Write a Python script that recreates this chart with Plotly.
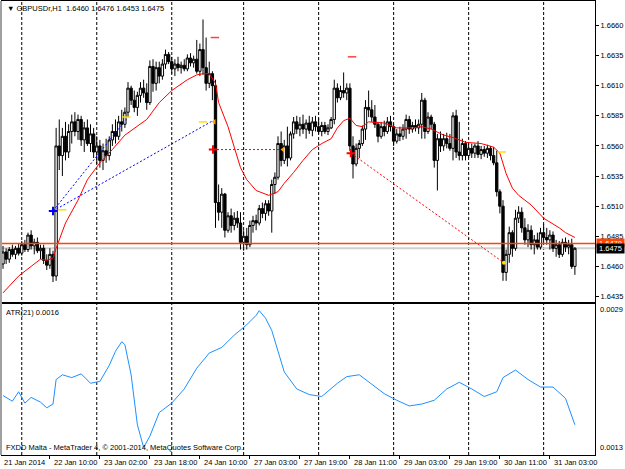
import plotly.graph_objects as go

# ---------------- data ----------------
symbol = "GBPUSDr,H1"

opens = [
    1.6462,1.6472,1.6466,1.6474,1.6470,1.6475,1.6471,1.6478,1.6474,1.6486,
    1.6477,1.6480,1.6473,1.6475,1.6465,1.6461,1.6470,1.6452,1.6560,1.6552,
    1.6568,1.6555,1.6572,1.6580,1.6572,1.6582,1.6565,1.6575,1.6562,1.6570,
    1.6555,1.6560,1.6548,1.6556,1.6552,1.6565,1.6572,1.6568,1.6580,1.6578,
    1.6588,1.6608,1.6598,1.6592,1.6602,1.6608,1.6604,1.6596,1.6626,1.6612,
    1.6625,1.6618,1.6628,1.6636,1.6630,1.6624,1.6628,1.6625,1.6627,1.6624,
    1.6633,1.6629,1.6632,1.6622,1.6640,1.6625,1.6612,1.6620,1.6610,1.6513,
    1.6505,1.6520,1.6490,1.6502,1.6494,1.6500,1.6496,1.6480,1.6485,1.6478,
    1.6494,1.6498,1.6496,1.6508,1.6504,1.6512,1.6506,1.6528,1.6534,1.6562,
    1.6548,1.6560,1.6550,1.6570,1.6580,1.6574,1.6578,1.6574,1.6579,1.6573,
    1.6580,1.6576,1.6572,1.6577,1.6572,1.6575,1.6582,1.6608,1.6600,1.6606,
    1.6604,1.6608,1.6560,1.6545,1.6558,1.6562,1.6574,1.6592,1.6590,1.6584,
    1.6578,1.6568,1.6576,1.6572,1.6580,1.6576,1.6564,1.6570,1.6568,1.6574,
    1.6582,1.6574,1.6577,1.6575,1.6578,1.6598,1.6572,1.6584,1.6578,1.6548,
    1.6566,1.6560,1.6566,1.6562,1.6558,1.6585,1.6555,1.6552,1.6562,1.6552,
    1.6558,1.6554,1.6560,1.6553,1.6557,1.6554,1.6558,1.6552,1.6546,1.6522,
    1.6510,1.6455,1.6470,1.6488,1.6475,1.6500,1.6505,1.6492,1.6482,1.6490,
    1.6478,1.6482,1.6476,1.6488,1.6484,1.6482,1.6486,1.6475,1.6478,1.6470,
    1.6480,1.6476,1.6478,1.6460]
highs = [
    1.6477,1.6475,1.6476,1.6478,1.6477,1.6479,1.6481,1.6482,1.6488,1.6490,
    1.6483,1.6484,1.6478,1.6478,1.6470,1.6475,1.6473,1.6575,1.6582,1.6575,
    1.6580,1.6578,1.6586,1.6588,1.6586,1.6585,1.6580,1.6582,1.6578,1.6575,
    1.6568,1.6565,1.6562,1.6566,1.6568,1.6578,1.6582,1.6585,1.6590,1.6592,
    1.6613,1.6610,1.6606,1.6605,1.6613,1.6615,1.6612,1.6631,1.6632,1.6630,
    1.6630,1.6632,1.6640,1.6638,1.6634,1.6632,1.6634,1.6630,1.6632,1.6636,
    1.6637,1.6635,1.6648,1.6645,1.6665,1.6650,1.6630,1.6622,1.6615,1.6528,
    1.6525,1.6521,1.6505,1.6508,1.6505,1.6506,1.6505,1.6490,1.6492,1.6498,
    1.6502,1.6503,1.6511,1.6513,1.6515,1.6515,1.6532,1.6538,1.6568,1.6572,
    1.6565,1.6576,1.6572,1.6584,1.6585,1.6584,1.6586,1.6582,1.6585,1.6584,
    1.6585,1.6583,1.6580,1.6580,1.6578,1.6584,1.6615,1.6612,1.6610,1.6621,
    1.6612,1.6612,1.6568,1.6562,1.6565,1.6577,1.6598,1.6606,1.6598,1.6594,
    1.6580,1.6580,1.6581,1.6584,1.6585,1.6578,1.6574,1.6576,1.6578,1.6586,
    1.6585,1.6580,1.6582,1.6582,1.6604,1.6600,1.6588,1.6586,1.6580,1.6570,
    1.6572,1.6570,1.6571,1.6570,1.6588,1.6590,1.6580,1.6566,1.6564,1.6562,
    1.6562,1.6562,1.6564,1.6560,1.6560,1.6561,1.6560,1.6559,1.6556,1.6524,
    1.6515,1.6474,1.6493,1.6490,1.6507,1.6510,1.6509,1.6500,1.6495,1.6494,
    1.6486,1.6488,1.6492,1.6495,1.6492,1.6490,1.6489,1.6482,1.6481,1.6483,
    1.6484,1.6482,1.6483,1.6476]
lows = [
    1.6458,1.6462,1.6463,1.6468,1.6466,1.6469,1.6469,1.6472,1.6472,1.6474,
    1.6470,1.6471,1.6466,1.6462,1.6457,1.6458,1.6447,1.6448,1.6540,1.6535,
    1.6548,1.6550,1.6562,1.6568,1.6565,1.6560,1.6555,1.6560,1.6555,1.6550,
    1.6545,1.6542,1.6540,1.6546,1.6548,1.6560,1.6562,1.6565,1.6572,1.6575,
    1.6584,1.6594,1.6588,1.6585,1.6596,1.6600,1.6590,1.6594,1.6605,1.6606,
    1.6612,1.6615,1.6624,1.6628,1.6620,1.6618,1.6622,1.6620,1.6622,1.6622,
    1.6626,1.6625,1.6620,1.6618,1.6619,1.6606,1.6608,1.6598,1.6492,1.6498,
    1.6492,1.6484,1.6488,1.6488,1.6490,1.6492,1.6474,1.6473,1.6474,1.6476,
    1.6488,1.6490,1.6494,1.6500,1.6498,1.6502,1.6488,1.6520,1.6532,1.6543,
    1.6545,1.6543,1.6548,1.6566,1.6570,1.6568,1.6570,1.6566,1.6570,1.6568,
    1.6572,1.6570,1.6568,1.6570,1.6569,1.6574,1.6578,1.6596,1.6598,1.6600,
    1.6598,1.6556,1.6533,1.6543,1.6550,1.6560,1.6565,1.6584,1.6580,1.6575,
    1.6563,1.6566,1.6568,1.6570,1.6572,1.6560,1.6562,1.6564,1.6565,1.6566,
    1.6570,1.6571,1.6572,1.6570,1.6566,1.6566,1.6570,1.6574,1.6542,1.6523,
    1.6555,1.6556,1.6558,1.6556,1.6548,1.6550,1.6548,1.6548,1.6548,1.6550,
    1.6550,1.6550,1.6550,1.6549,1.6551,1.6550,1.6548,1.6544,1.6518,1.6504,
    1.6448,1.6448,1.6463,1.6468,1.6473,1.6496,1.6488,1.6478,1.6476,1.6474,
    1.6470,1.6474,1.6474,1.6480,1.6478,1.6474,1.6472,1.6468,1.6467,1.6468,
    1.6472,1.6470,1.6458,1.6453]
closes = [
    1.6472,1.6466,1.6474,1.6470,1.6475,1.6471,1.6478,1.6474,1.6486,1.6477,
    1.6480,1.6473,1.6475,1.6465,1.6461,1.6470,1.6452,1.6560,1.6552,1.6568,
    1.6555,1.6572,1.6580,1.6572,1.6582,1.6565,1.6575,1.6562,1.6570,1.6555,
    1.6560,1.6548,1.6556,1.6552,1.6565,1.6572,1.6568,1.6580,1.6578,1.6588,
    1.6608,1.6598,1.6592,1.6602,1.6608,1.6604,1.6596,1.6626,1.6612,1.6625,
    1.6618,1.6628,1.6636,1.6630,1.6624,1.6628,1.6625,1.6627,1.6624,1.6633,
    1.6629,1.6632,1.6622,1.6640,1.6625,1.6612,1.6620,1.6610,1.6513,1.6505,
    1.6520,1.6490,1.6502,1.6494,1.6500,1.6496,1.6480,1.6485,1.6478,1.6494,
    1.6498,1.6496,1.6508,1.6504,1.6512,1.6506,1.6528,1.6534,1.6562,1.6548,
    1.6560,1.6550,1.6570,1.6580,1.6574,1.6578,1.6574,1.6579,1.6573,1.6580,
    1.6576,1.6572,1.6577,1.6572,1.6575,1.6582,1.6608,1.6600,1.6606,1.6604,
    1.6608,1.6560,1.6545,1.6558,1.6562,1.6574,1.6592,1.6590,1.6584,1.6578,
    1.6568,1.6576,1.6572,1.6580,1.6576,1.6564,1.6570,1.6568,1.6574,1.6582,
    1.6574,1.6577,1.6575,1.6578,1.6598,1.6572,1.6584,1.6578,1.6548,1.6566,
    1.6560,1.6566,1.6562,1.6558,1.6585,1.6555,1.6552,1.6562,1.6552,1.6558,
    1.6554,1.6560,1.6553,1.6557,1.6554,1.6558,1.6552,1.6546,1.6522,1.6510,
    1.6455,1.6470,1.6488,1.6475,1.6500,1.6505,1.6492,1.6482,1.6490,1.6478,
    1.6482,1.6476,1.6488,1.6484,1.6482,1.6486,1.6475,1.6478,1.6470,1.6480,
    1.6476,1.6478,1.6460,1.6475]
bar_idx = list(range(len(opens)))

# moving average (red line), read at selected bars
ma_idx = [0,5,12,14,16,17,20,24,27,31,35,39,46,50,54,59,62,64,66,68,
          69,72,74,76,78,81,85,88,90,93,96,99,102,105,107,109,111,113,115,117,
          122,126,131,134,137,141,144,148,153,157,159,161,163,165,169,173,178,180,183]
ma_val = [1.6438,1.6452,1.6466,1.6465,1.6467,1.6475,1.6496,1.6515,1.6532,1.6546,
          1.6557,1.6569,1.6582,1.6596,1.6606,1.6615,1.6619,1.6620,1.6620,1.6612,
          1.6596,1.6576,1.6559,1.6542,1.6532,1.6523,1.6519,1.6522,1.6529,1.6538,
          1.6548,1.6557,1.6562,1.6566,1.6575,1.6581,1.6583,1.6577,1.6576,1.6580,
          1.6579,1.6575,1.6575,1.6576,1.6574,1.6569,1.6567,1.6563,1.6562,1.6559,
          1.6554,1.6537,1.6525,1.6519,1.6511,1.6500,1.6492,1.6488,1.6484]

# ATR(21), read at selected bars
atr_idx = [0,3,5,7,9,12,14,16,17,19,22,25,28,31,34,36,38,39,41,43,
           45,47,50,54,58,62,66,70,74,78,81,82,84,86,88,90,94,98,102,107,
           110,114,118,122,126,130,134,138,142,146,150,154,158,160,164,168,172,176,180,182,183]
atr_val = [0.00193,0.00187,0.00197,0.00185,0.00191,0.00186,0.00180,0.00184,0.00210,0.00215,
           0.00212,0.00216,0.00206,0.00208,0.00225,0.00240,0.00250,0.00247,0.00215,0.00162,
           0.00138,0.00150,0.00175,0.00185,0.00200,0.00222,0.00238,0.00244,0.00257,0.00268,
           0.00278,0.00283,0.00275,0.00262,0.00240,0.00218,0.00200,0.00194,0.00192,0.00206,
           0.00213,0.00215,0.00205,0.00195,0.00188,0.00182,0.00184,0.00188,0.00200,0.00207,
           0.00200,0.00192,0.00197,0.00212,0.00220,0.00210,0.00202,0.00202,0.00190,0.00170,0.00162]
atr_period = 21
atr_current = 0.0016
atr_scale = [0.0013, 0.0029]

time_label_idx = [0, 16, 32, 48, 64, 80, 96, 112, 128, 144, 160, 176]
time_labels = ["21 Jan 2014", "22 Jan 10:00", "23 Jan 02:00", "23 Jan 18:00",
               "24 Jan 10:00", "27 Jan 03:00", "27 Jan 19:00", "28 Jan 11:00",
               "29 Jan 03:00", "29 Jan 19:00", "30 Jan 11:00", "31 Jan 03:00"]
separator_idx = [6, 30, 54, 77, 101, 125, 149, 173]
price_ticks = [1.6435, 1.6460, 1.6485, 1.6510, 1.6535, 1.6560, 1.6585, 1.6610, 1.6635, 1.6660]
ask_price = 1.6479
bid_price = 1.6475

# drawn objects (trend lines and markers)
blue_tl_x = [16.0, 39.4, None, 16.0, 67.2]
blue_tl_y = [1.6506, 1.6582, None, 1.6506, 1.6581]
red_h_x = [67.2, 89.6]
red_h_y = [1.6557, 1.6557]
red_d_x = [111.3, 160.3]
red_d_y = [1.6554, 1.6463]
red_dash_x = [67.8, 111.7]
red_dash_y = [1.6650, 1.6634]
yellow_dash_x = [18.9, 64.0, 159.6, 39.4]
yellow_dash_y = [1.6507, 1.6580, 1.6555, 1.6584]
yellow_dot_x = [160.3]
yellow_dot_y = [1.6463]
orange_tri_x = [67.6, 89.6]
orange_tri_y = [1.6580, 1.6557]
blue_cross_x = [16.0]
blue_cross_y = [1.6506]
red_cross_x = [111.3, 67.2]
red_cross_y = [1.6554, 1.6557]

# ---------------- geometry (pixels) ----------------
W, H = 625, 469
PL, PR, PT, PB = 2, 595, 1, 455
MAIN_BOTTOM, ATR_TOP = 302, 304
BAR0_PX, BAR_STEP = 3.0, 3.125
TICK_TOP_PX, TICK_BOT_PX = 25.5, 296.5

def px_to_idx(px):
    return (px - BAR0_PX) / BAR_STEP

def px_to_price(py):
    return price_ticks[-1] + (TICK_TOP_PX - py) * (price_ticks[-1] - price_ticks[0]) / (TICK_BOT_PX - TICK_TOP_PX)

def pxx(px):
    return (px - PL) / (PR - PL)

def pxy(py):
    return (PB - py) / (PB - PT)

FONT = "Liberation Sans"
FS = 7.5

fig = go.Figure()

fig.add_trace(go.Candlestick(
    x=bar_idx, open=opens, high=highs, low=lows, close=closes,
    increasing=dict(line=dict(color="black", width=1), fillcolor="white"),
    decreasing=dict(line=dict(color="black", width=1), fillcolor="black"),
    whiskerwidth=0, xaxis="x", yaxis="y", showlegend=False, hoverinfo="skip"))

fig.add_trace(go.Scatter(x=ma_idx, y=ma_val, mode="lines", line=dict(color="#FF0000", width=1),
                         xaxis="x", yaxis="y", showlegend=False, hoverinfo="skip"))

fig.add_trace(go.Scatter(x=blue_tl_x, y=blue_tl_y, mode="lines",
                         line=dict(color="#0000FF", width=1, dash="2px,2px"),
                         xaxis="x", yaxis="y", showlegend=False, hoverinfo="skip"))
fig.add_trace(go.Scatter(x=red_h_x, y=red_h_y, mode="lines",
                         line=dict(color="#FF0000", width=1, dash="2px,2px"),
                         xaxis="x", yaxis="y", showlegend=False, hoverinfo="skip"))
fig.add_trace(go.Scatter(x=red_d_x, y=red_d_y, mode="lines",
                         line=dict(color="#FF0000", width=1, dash="2px,2px"),
                         xaxis="x", yaxis="y", showlegend=False, hoverinfo="skip"))

def mk(xs, ys, symbol_, color, size, lw=1.5):
    fig.add_trace(go.Scatter(x=xs, y=ys, mode="markers",
                             marker=dict(symbol=symbol_, size=size, color=color,
                                         line=dict(color=color, width=lw)),
                             xaxis="x", yaxis="y", showlegend=False, hoverinfo="skip"))

mk(red_dash_x, red_dash_y, "line-ew", "#FF4040", 6)
mk(yellow_dash_x, yellow_dash_y, "line-ew", "#FFE000", 6)
mk(yellow_dot_x, yellow_dot_y, "circle", "#FFE000", 4, 0)
mk(orange_tri_x, orange_tri_y, "triangle-left", "#FFA500", 5, 0)
mk(blue_cross_x, blue_cross_y, "cross-thin", "#0000FF", 6, 2)
mk(red_cross_x, red_cross_y, "cross-thin", "#FF0000", 6, 2)

fig.add_trace(go.Scatter(x=atr_idx, y=atr_val, mode="lines", line=dict(color="#1E90FF", width=1),
                         xaxis="x2", yaxis="y2", showlegend=False, hoverinfo="skip"))

# separators
for s in separator_idx:
    fig.add_shape(type="line", xref="x", yref="paper", x0=s, x1=s, y0=0, y1=1,
                  line=dict(color="black", width=1, dash="3px,2px"), layer="below")

# bid / ask lines
fig.add_shape(type="line", xref="paper", yref="y", x0=0, x1=1, y0=bid_price, y1=bid_price,
              line=dict(color="#CFCFCF", width=2), layer="below")
fig.add_shape(type="line", xref="paper", yref="y", x0=0, x1=1, y0=ask_price, y1=ask_price,
              line=dict(color="#FF4500", width=1.5), layer="above")

x_range = [px_to_idx(PL), px_to_idx(PR)]
y_range = [px_to_price(MAIN_BOTTOM), px_to_price(PT)]

axis_common = dict(showline=True, mirror=True, linecolor="black", linewidth=1,
                   showgrid=False, zeroline=False, automargin=False)

fig.update_layout(
    width=W, height=H, template="none",
    margin=dict(l=PL, r=W - PR, t=PT, b=H - PB, pad=0),
    paper_bgcolor="white", plot_bgcolor="rgba(0,0,0,0)",
    boxgap=0.25, boxgroupgap=0,
    font=dict(family=FONT, size=FS, color="black"),
    xaxis=dict(domain=[0, 1], anchor="y", range=x_range, showticklabels=False, ticks="",
               rangeslider=dict(visible=False), **axis_common),
    xaxis2=dict(domain=[0, 1], anchor="y2", range=x_range, matches="x", showticklabels=False,
                ticks="outside", ticklen=3, tickcolor="black",
                tickvals=[i - 1 for i in time_label_idx], **axis_common),
    yaxis=dict(domain=[pxy(MAIN_BOTTOM), 1], anchor="x", range=y_range, side="right",
               tickvals=price_ticks, ticktext=[f"{p:.4f}" for p in price_ticks],
               ticks="outside", ticklen=3, tickcolor="black",
               tickfont=dict(family=FONT, size=FS, color="black"), **axis_common),
    yaxis2=dict(domain=[0, pxy(ATR_TOP)], anchor="x2", range=atr_scale, side="right",
                showticklabels=False, ticks="", **axis_common),
    showlegend=False,
)

# gray window edge on the left
fig.add_shape(type="rect", xref="paper", yref="paper", x0=pxx(0), x1=pxx(2), y0=0, y1=1,
              fillcolor="#A0A0A0", line=dict(width=0), layer="above")

ann = []
ann.append(dict(xref="paper", yref="paper", x=pxx(5), y=pxy(8), xanchor="left", yanchor="middle",
                text=f"\u25BC {symbol}  {opens[-1]:.4f} {highs[-1]:.4f} {lows[-1]:.4f} {closes[-1]:.4f}",
                showarrow=False, font=dict(family=FONT, size=FS, color="black")))
ann.append(dict(xref="paper", yref="paper", x=pxx(4), y=pxy(312), xanchor="left", yanchor="middle",
                text=f"ATR({atr_period}) {atr_current:.4f}", showarrow=False,
                font=dict(family=FONT, size=FS, color="black")))
ann.append(dict(xref="paper", yref="paper", x=pxx(4), y=pxy(447), xanchor="left", yanchor="middle",
                text="FXDD Malta - MetaTrader 4, \u00A9 2001-2014, MetaQuotes Software Corp.",
                showarrow=False, font=dict(family=FONT, size=FS, color="black")))
for i, t in zip(time_label_idx, time_labels):
    ann.append(dict(xref="x2", yref="paper", x=i, y=pxy(462), xanchor="left", yanchor="middle",
                    xshift=-1, text=t, showarrow=False, font=dict(family=FONT, size=FS, color="black")))
ann.append(dict(xref="paper", yref="paper", x=pxx(598), y=pxy(309), xanchor="left", yanchor="middle",
                text=f"{atr_scale[1]:.4f}", showarrow=False, font=dict(family=FONT, size=FS, color="black")))
ann.append(dict(xref="paper", yref="paper", x=pxx(598), y=pxy(447), xanchor="left", yanchor="middle",
                text=f"{atr_scale[0]:.4f}", showarrow=False, font=dict(family=FONT, size=FS, color="black")))
# price boxes (ask box partly hidden by bid box, as in the terminal)
ann.append(dict(xref="paper", yref="paper", x=pxx(596), y=pxy(242.5), xanchor="left", yanchor="middle",
                text=f"{ask_price:.4f}", showarrow=False, bgcolor="#FF4500", width=27, height=8,
                borderpad=0, font=dict(family=FONT, size=FS, color="white")))
ann.append(dict(xref="paper", yref="paper", x=pxx(596), y=pxy(248.5), xanchor="left", yanchor="middle",
                text=f"{bid_price:.4f}", showarrow=False, bgcolor="black", width=27, height=9,
                borderpad=0, font=dict(family=FONT, size=FS, color="white")))
fig.update_layout(annotations=ann)

fig.write_html("out.html")
